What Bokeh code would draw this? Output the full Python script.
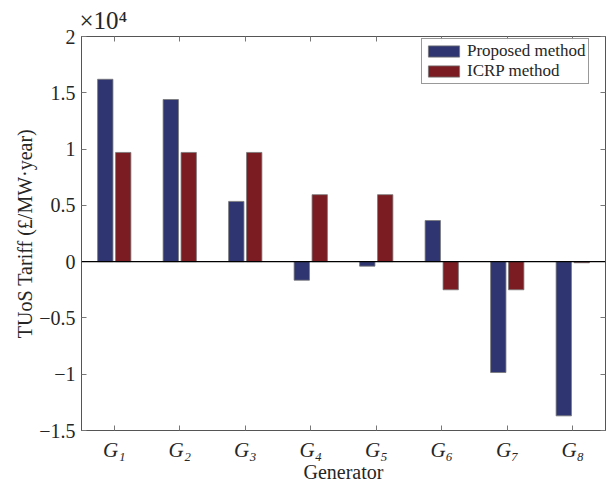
import numpy as np
from bokeh.plotting import figure
from bokeh.models import (Range1d, LinearAxis, FixedTicker, Span, Title, Legend, LegendItem,
                          CustomJSTickFormatter)
from bokeh.embed import file_html
from bokeh.resources import INLINE

x_tick_labels = ["G\u2081", "G\u2082", "G\u2083", "G\u2084", "G\u2085", "G\u2086", "G\u2087", "G\u2088"]
proposed = [16200, 14400, 5350, -1650, -400, 3650, -9850, -13700]
icrp = [9700, 9700, 9700, 5950, 5950, -2500, -2500, -100]
y_ticks = [-15000, -10000, -5000, 0, 5000, 10000, 15000, 20000]
y_tick_labels = ["\u22121.5", "\u22121", "\u22120.5", "0", "0.5", "1", "1.5", "2"]

BLUE = "#2e3570"
RED = "#7a1c21"
FONT = "Liberation Serif"
TXT = "#262626"

x = np.arange(1, len(x_tick_labels) + 1)
off = 0.137
bw = 0.234

p = figure(frame_width=524, frame_height=394, output_backend="svg", toolbar_location=None,
           x_range=Range1d(0.5, 8.5), y_range=Range1d(-15000, 20000), title_location=None,
           min_border_left=81, min_border_right=6, min_border_top=36, min_border_bottom=55)
p.background_fill_color = "white"
p.outline_line_color = "#555555"
p.xgrid.visible = False
p.ygrid.visible = False

r1 = p.vbar(x=x - off, width=bw, top=proposed, bottom=0, fill_color=BLUE,
            line_color="#777777", line_width=0.8)
r2 = p.vbar(x=x + off, width=bw, top=icrp, bottom=0, fill_color=RED,
            line_color="#777777", line_width=0.8)

p.add_layout(Span(location=0, dimension="width", line_color="black", line_width=1.2))

for ax in (p.xaxis[0], p.yaxis[0]):
    ax.major_tick_in = 5
    ax.major_tick_out = 0
    ax.minor_tick_line_color = None
    ax.axis_line_color = "#555555"
    ax.major_tick_line_color = "#777777"
    ax.axis_label_text_font = FONT
    ax.axis_label_text_font_style = "normal"
    ax.axis_label_text_color = TXT
    ax.axis_label_text_font_size = "20px"
    ax.major_label_text_font = FONT
    ax.major_label_text_color = TXT
    ax.major_label_text_font_size = "20px"

p.xaxis.ticker = FixedTicker(ticks=list(x))
p.xaxis.major_label_overrides = {int(i): t for i, t in zip(x, x_tick_labels)}
p.xaxis.major_label_text_font_style = "italic"
p.xaxis.major_label_text_font_size = "21px"
p.xaxis.major_label_standoff = 7
p.xaxis.axis_label = "Generator"
p.xaxis.axis_label_standoff = -4

p.yaxis.ticker = FixedTicker(ticks=y_ticks)
p.yaxis.major_label_overrides = {t: l for t, l in zip(y_ticks, y_tick_labels)}
p.yaxis.axis_label = "TUoS Tariff (\u00a3/MW\u00b7year)"
p.yaxis.major_label_standoff = 6
p.yaxis.axis_label_standoff = 0

for loc, tk in (("right", y_ticks), ("above", list(x))):
    ax = LinearAxis(ticker=FixedTicker(ticks=tk), formatter=CustomJSTickFormatter(code="return ''"),
                    major_tick_in=5, major_tick_out=0, minor_tick_line_color=None,
                    axis_line_color="#555555", major_tick_line_color="#777777",
                    major_label_standoff=0)
    p.add_layout(ax, loc)

p.add_layout(Title(text="\u00d710\u2074", align="left", offset=-2, standoff=5,
                   text_font=FONT, text_font_size="25px", text_font_style="normal",
                   text_color=TXT), "above")

legend = Legend(items=[LegendItem(label="Proposed method", renderers=[r1]),
                       LegendItem(label="ICRP method", renderers=[r2])],
                location=(340, 346), label_text_font=FONT, label_text_font_size="17px",
                label_text_color=TXT, glyph_width=39, glyph_height=14, label_height=14,
                label_standoff=4, spacing=0, padding=2, margin=0,
                border_line_color="#333333", border_line_width=1)
p.add_layout(legend)

open("out.html", "w").write(file_html(p, INLINE))
